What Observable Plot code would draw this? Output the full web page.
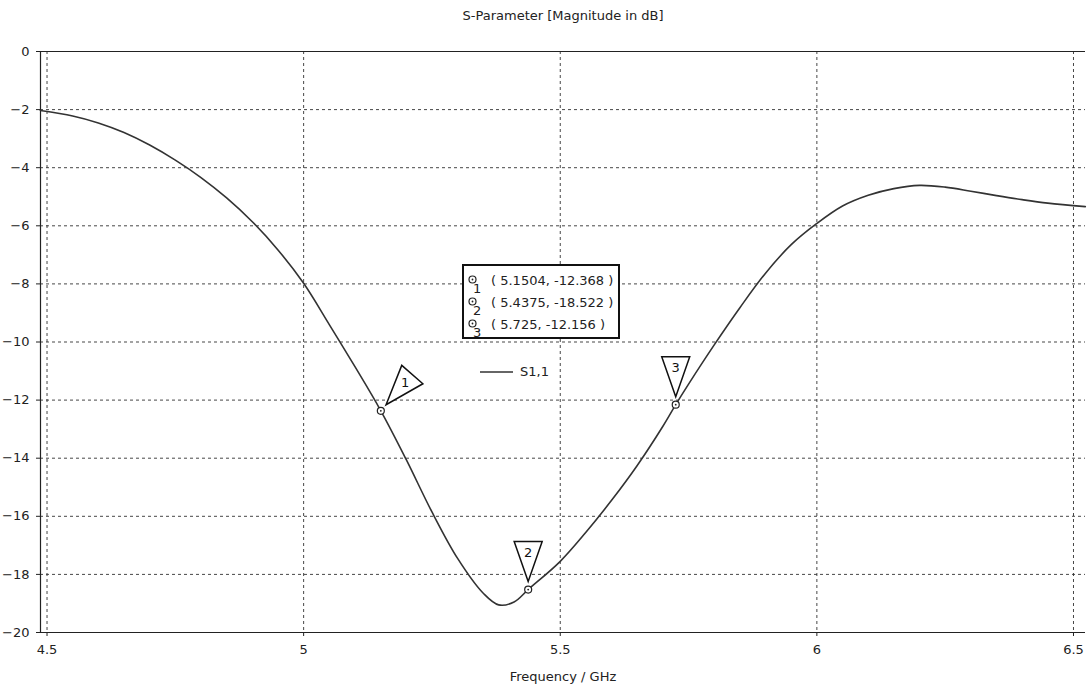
<!DOCTYPE html>
<html><head><meta charset="utf-8">
<script src="https://cdn.jsdelivr.net/npm/d3@7"></script>
<script src="https://cdn.jsdelivr.net/npm/@observablehq/plot@0.6"></script>
<style>
body{margin:0;background:#fff;}
#wrap{position:relative;width:1089px;height:689px;font-family:"DejaVu Sans",sans-serif;font-size:13px;color:#222;}
#mbox{position:absolute;left:462px;top:264px;width:154px;height:71px;border:2px solid #111;background:#fff;}
.row{position:absolute;left:0;height:20px;white-space:pre;}
.row .txt{position:absolute;left:27px;top:1px;line-height:16px;}
.row svg{position:absolute;left:3px;top:2px;}
.row .sub{position:absolute;left:9px;top:10px;font-size:13px;line-height:14px;}
#lline{position:absolute;left:480px;top:364px;white-space:pre;line-height:16px;}
#lline svg{position:absolute;left:0;top:2px;}
#lline span{position:absolute;left:40px;top:0;}
</style></head><body><div id="wrap"></div>
<script>
// S1,1 curve (frequency in GHz, magnitude in dB)
const freq = [4.487,4.55,4.60,4.65,4.70,4.75,4.80,4.85,4.90,4.95,5.00,5.05,5.10,5.1504,5.20,5.25,5.30,5.35,5.38,5.41,5.4375,5.50,5.55,5.60,5.65,5.70,5.725,5.75,5.80,5.85,5.90,5.95,6.00,6.05,6.10,6.15,6.20,6.25,6.30,6.35,6.40,6.45,6.523];
const s11 = [-2.03,-2.22,-2.46,-2.79,-3.22,-3.74,-4.34,-5.04,-5.86,-6.83,-7.98,-9.40,-10.85,-12.368,-14.05,-15.85,-17.45,-18.65,-19.05,-18.95,-18.522,-17.55,-16.55,-15.45,-14.25,-12.9,-12.156,-11.45,-10.1,-8.82,-7.63,-6.65,-5.92,-5.32,-4.95,-4.72,-4.61,-4.67,-4.81,-4.96,-5.10,-5.22,-5.34];
// markers
const markerIds = [1,2,3];
const markerFreq = [5.1504,5.4375,5.725];
const markerDb = [-12.368,-18.522,-12.156];
const markerRotate = [41,0,0];
const markerText = ["( 5.1504, -12.368 )","( 5.4375, -18.522 )","( 5.725, -12.156 )"];
// axes
const xDomain = [4.4873,6.5234];
const yDomain = [-20,0];
const xTicks = [4.5,5,5.5,6,6.5];
const yTicks = [0,-2,-4,-6,-8,-10,-12,-14,-16,-18,-20];
const title = "S-Parameter [Magnitude in dB]";
const xLabel = "Frequency / GHz";
const seriesName = "S1,1";

const curve = freq.map((f,i)=>({f, v:s11[i]}));
const markers = markerIds.map((id,i)=>({id, f:markerFreq[i], v:markerDb[i], rot:markerRotate[i]}));

const tri = {draw(ctx){ctx.moveTo(0,-8);ctx.lineTo(-14,-48);ctx.lineTo(14,-48);ctx.closePath();}};
const font = '"DejaVu Sans",sans-serif';

const labelMarks = markers.map(m=>{
  const a = m.rot*Math.PI/180, d = 37;
  return Plot.text([m],{x:"f",y:"v",text:d=>String(d.id),dx:d*Math.sin(a),dy:-d*Math.cos(a),fontSize:13,fill:"#111",lineAnchor:"middle"});
});

const chart = Plot.plot({
  width:1089, height:689,
  marginLeft:40, marginTop:51, marginBottom:57, marginRight:4,
  style:{fontFamily:font, fontSize:"13px", color:"#222", background:"#fff"},
  x:{domain:xDomain},
  y:{domain:yDomain},
  marks:[
    Plot.gridX(xTicks,{stroke:"#333",strokeOpacity:0.9,strokeDasharray:"3,3"}),
    Plot.gridY(yTicks,{stroke:"#333",strokeOpacity:0.9,strokeDasharray:"3,3"}),
    Plot.axisX(xTicks,{tickSize:4,tickPadding:8,tickFormat:d=>String(d),label:null,stroke:"#222"}),
    Plot.axisY(yTicks,{tickSize:4,tickPadding:7,label:null,stroke:"#222"}),
    Plot.ruleX([xDomain[0]],{stroke:"#222",strokeWidth:1.2}),
    Plot.ruleY(yDomain,{stroke:"#222",strokeWidth:1.2}),
    Plot.line(curve,{x:"f",y:"v",stroke:"#333",strokeWidth:1.6,curve:"catmull-rom"}),
    Plot.dot(markers,{x:"f",y:"v",symbol:tri,rotate:"rot",r:5,fill:"#fff",stroke:"#111",strokeWidth:1.5}),
    ...labelMarks,
    Plot.dot(markers,{x:"f",y:"v",r:3.5,fill:"#fff",stroke:"#222",strokeWidth:1.2}),
    Plot.dot(markers,{x:"f",y:"v",r:0.9,fill:"#222"}),
    Plot.text([title],{frameAnchor:"top",dy:-36,fontSize:13,fill:"#222",lineAnchor:"middle"}),
    Plot.text([xLabel],{frameAnchor:"bottom",dy:44,fontSize:13,fill:"#222",lineAnchor:"middle"})
  ]
});
const wrap = document.getElementById("wrap");
wrap.appendChild(chart);

// marker value box
const box = document.createElement("div");
box.id = "mbox";
markers.forEach((m,i)=>{
  const row = document.createElement("div");
  row.className = "row";
  row.style.top = (6 + i*22) + "px";
  row.innerHTML = `<svg width="12" height="12"><circle cx="5.5" cy="5.5" r="3.5" fill="#fff" stroke="#222" stroke-width="1.2"/><circle cx="5.5" cy="5.5" r="0.9" fill="#222"/></svg><span class="sub">${m.id}</span><span class="txt">${markerText[i]}</span>`;
  box.appendChild(row);
});
wrap.appendChild(box);

// series legend
const leg = document.createElement("div");
leg.id = "lline";
leg.innerHTML = `<svg width="34" height="12"><line x1="0" y1="6" x2="33" y2="6" stroke="#333" stroke-width="1.6"/></svg><span>${seriesName}</span>`;
wrap.appendChild(leg);
</script></body></html>
